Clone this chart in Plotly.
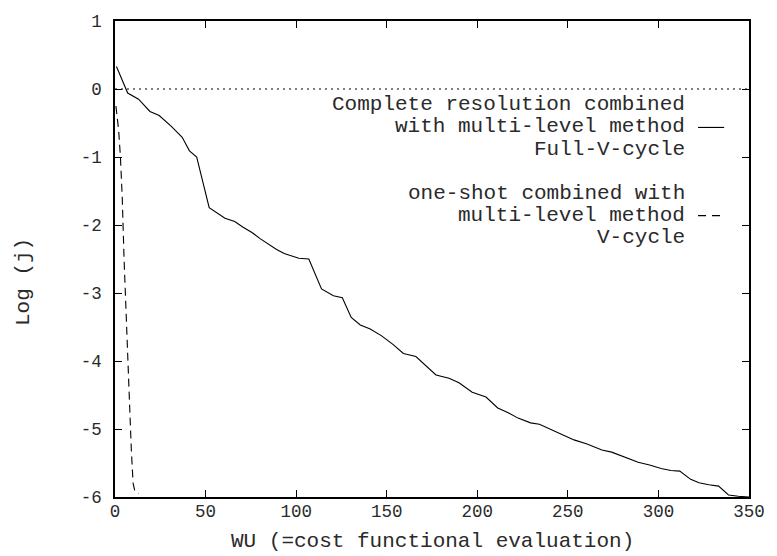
import plotly.graph_objects as go

# Full-V-cycle (complete resolution combined with multi-level method)
fv_x = [0.8, 7.0, 13.0, 19.3, 24.4, 31.1, 37.1, 41.1, 45.1, 52.0, 60.7, 66.1, 70.5, 75.6,
        80.1, 84.6, 89.2, 93.4, 97.3, 101.5, 107.0, 114.0, 120.6, 125.5, 130.4, 135.4,
        140.9, 147.2, 153.6, 159.2, 166.1, 172.0, 177.2, 184.4, 189.9, 197.2, 204.8,
        211.3, 217.1, 222.5, 229.4, 234.3, 240.7, 247.0, 253.4, 260.6, 268.8, 274.2,
        281.5, 288.8, 295.1, 301.5, 306.9, 311.8, 317.8, 322.4, 327.8, 333.2, 338.7,
        344.1, 350.0]
fv_y = [0.33, -0.06, -0.15, -0.33, -0.39, -0.55, -0.71, -0.91, -1.00, -1.745, -1.90,
        -1.95, -2.03, -2.11, -2.20, -2.28, -2.36, -2.42, -2.45, -2.49, -2.50, -2.94,
        -3.04, -3.07, -3.36, -3.47, -3.53, -3.63, -3.76, -3.89, -3.935, -4.08, -4.205,
        -4.255, -4.32, -4.46, -4.53, -4.69, -4.76, -4.84, -4.91, -4.93, -5.01, -5.09,
        -5.16, -5.22, -5.31, -5.34, -5.42, -5.49, -5.53, -5.58, -5.61, -5.62, -5.74,
        -5.79, -5.82, -5.84, -5.97, -5.99, -6.0]

# V-cycle (one-shot combined with multi-level method)
v_x = [0.5, 2.0, 3.0, 4.0, 5.0, 6.0, 7.0, 8.0, 9.0, 10.0, 11.0, 13.0]
v_y = [-0.25, -0.6, -1.0, -1.6, -2.5, -3.3, -4.0, -4.6, -5.3, -5.8, -5.92, -5.95]

# reference level
ref_x = [0, 350]
ref_y = [0, 0]

x_ticks = [0, 50, 100, 150, 200, 250, 300, 350]
y_ticks = [1, 0, -1, -2, -3, -4, -5, -6]

legend_lines = ["Complete resolution combined", "with multi-level method", "Full-V-cycle",
                "one-shot combined with", "multi-level method", "V-cycle"]

FONT = "Liberation Mono"
TXT = "#2a2a2a"

fig = go.Figure()
fig.add_trace(go.Scatter(x=ref_x, y=ref_y, mode="lines",
                         line=dict(color="black", width=1, dash="2px,4px"),
                         showlegend=False, hoverinfo="skip"))
fig.add_trace(go.Scatter(x=fv_x, y=fv_y, mode="lines",
                         line=dict(color="black", width=1.1),
                         showlegend=False))
fig.add_trace(go.Scatter(x=v_x, y=v_y, mode="lines",
                         line=dict(color="black", width=1.1, dash="8px,5px"),
                         showlegend=False))

# legend text (gnuplot style: right-aligned text with sample to the right)
line_px = [99, 121.5, 144, 189, 211.5, 234]
ax_top, ax_bot = 14, 497
for txt, py in zip(legend_lines, line_px):
    fig.add_annotation(x=(695 - 114.5) / 643.2, y=(ax_bot - py) / (ax_bot - ax_top),
                       xref="paper", yref="paper", text=txt, showarrow=False,
                       xanchor="right", yanchor="middle",
                       font=dict(family=FONT, size=21, color=TXT))
for py, dash in [(122, "solid"), (211.5, "8px,6px")]:
    yy = (ax_bot - py) / (ax_bot - ax_top)
    fig.add_shape(type="line", xref="paper", yref="paper",
                  x0=(706 - 114.5) / 643.2, x1=(732.5 - 114.5) / 643.2, y0=yy, y1=yy,
                  line=dict(color="black", width=1.1, dash=dash))

# axis titles
fig.add_annotation(x=(21 - 114.5) / 643.2, y=(ax_bot - 279) / (ax_bot - ax_top),
                   xref="paper", yref="paper", text="Log (j)", textangle=-90,
                   showarrow=False, xanchor="center", yanchor="middle",
                   font=dict(family=FONT, size=21, color=TXT))
fig.add_annotation(x=0.5, y=(ax_bot - 542) / (ax_bot - ax_top),
                   xref="paper", yref="paper", text="WU (=cost functional evaluation)",
                   showarrow=False, xanchor="center", yanchor="middle",
                   font=dict(family=FONT, size=21, color=TXT))

axis_common = dict(showline=True, linecolor="black", linewidth=1.5, mirror="allticks",
                   ticks="inside", ticklen=7, tickwidth=1, tickcolor="black",
                   showgrid=False, zeroline=False,
                   tickfont=dict(family=FONT, size=17.5, color=TXT))

fig.update_xaxes(range=[0, 350], tickvals=x_ticks, ticktext=[str(v) for v in x_ticks],
                 ticklabelstandoff=-3, **axis_common)
fig.update_yaxes(range=[-6, 1], tickvals=y_ticks, ticktext=[str(v) for v in y_ticks],
                 ticklabelstandoff=8, **axis_common)

fig.update_layout(width=777, height=556,
                  margin=dict(l=114.5, r=19.3, t=14, b=59),
                  plot_bgcolor="white", paper_bgcolor="white",
                  showlegend=False)

fig.write_html("out.html", config={"displayModeBar": False},
               post_script="document.body.style.margin='0';"
                           "document.body.style.overflow='hidden';")
